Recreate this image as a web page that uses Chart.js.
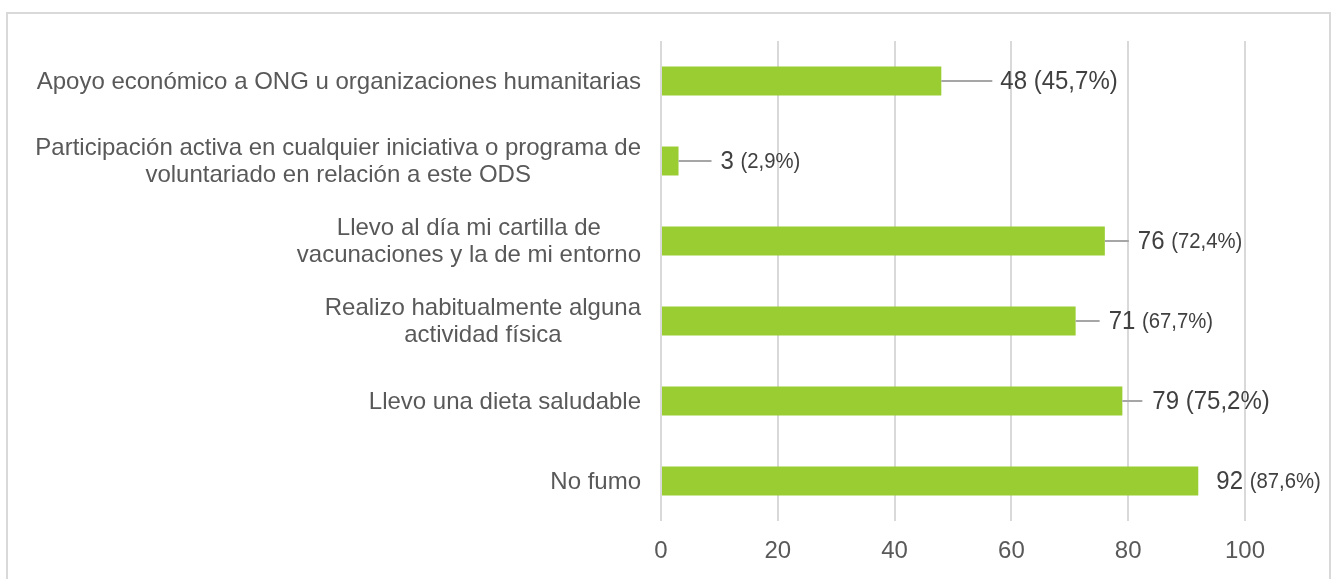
<!DOCTYPE html>
<html>
<head>
<meta charset="utf-8">
<script src="https://cdn.jsdelivr.net/npm/chart.js@4"></script>
<style>
    body { margin: 0; background: #fff; width: 1333px; height: 579px; overflow: hidden; position: relative; }
    #frame { position: absolute; left: 6px; top: 12px; width: 1321px; height: 600px; border: 2px solid #d9d9d9; }
    #wrap { position: absolute; left: 0; top: 0; width: 1333px; height: 579px; }
</style>
</head>
<body>
<div id="frame"></div>
<div id="wrap"><canvas id="odsChart"></canvas></div>
<script>
// ==================== DATA ====================
const categories = [
    ["Apoyo económico a ONG u organizaciones humanitarias"],
    ["Participación activa en cualquier iniciativa o programa de", "voluntariado en relación a este ODS"],
    ["Llevo al día mi cartilla de", "vacunaciones y la de mi entorno"],
    ["Realizo habitualmente alguna", "actividad física"],
    ["Llevo una dieta saludable"],
    ["No fumo"]
];
const counts = [48, 3, 76, 71, 79, 92];
const percents = [45.7, 2.9, 72.4, 67.7, 75.2, 87.6];
const xTicks = [0, 20, 40, 60, 80, 100];

// label styling (leader line length, gap, size of the % part)
const leaderLen = [51, 33, 24, 24, 20, 0];
const labelGap = [8, 9, 9, 9, 10, 18];
const pctSize = [26, 22, 22, 22, 26, 22];

const FONT = "'Liberation Sans', Arial, sans-serif";
const SQUEEZE = 0.923; // value labels look a bit condensed

// category labels: block right aligned, lines centered inside the block
const categoryLabels = {
    id: 'categoryLabels',
    afterDraw(chart) {
        const ctx = chart.ctx;
        const y = chart.scales.y;
        const right = chart.chartArea.left - 20;
        const lh = 27;
        ctx.save();
        ctx.font = '24px ' + FONT;
        ctx.fillStyle = '#595959';
        ctx.textAlign = 'center';
        ctx.textBaseline = 'middle';
        categories.forEach((lines, i) => {
            const cy = y.getPixelForValue(i) + 1;
            const w = Math.max(...lines.map(l => ctx.measureText(l).width));
            const cx = right - w / 2;
            const start = cy - (lines.length - 1) * lh / 2;
            lines.forEach((l, j) => ctx.fillText(l, cx, start + j * lh));
        });
        ctx.restore();
    }
};

// value labels with leader lines
const valueLabels = {
    id: 'valueLabels',
    afterDatasetsDraw(chart) {
        const ctx = chart.ctx;
        const meta = chart.getDatasetMeta(0);
        meta.data.forEach((bar, i) => {
            const x0 = bar.x;
            const y0 = bar.y;
            ctx.save();
            if (leaderLen[i] > 0) {
                ctx.strokeStyle = '#a6a6a6';
                ctx.lineWidth = 2;
                ctx.beginPath();
                ctx.moveTo(x0, y0);
                ctx.lineTo(x0 + leaderLen[i], y0);
                ctx.stroke();
            }
            const tx = x0 + leaderLen[i] + labelGap[i];
            ctx.translate(tx, y0 + 1);
            ctx.scale(SQUEEZE, 1);
            ctx.fillStyle = '#404040';
            ctx.textBaseline = 'middle';
            ctx.textAlign = 'left';
            ctx.font = '26px ' + FONT;
            const first = counts[i] + ' ';
            ctx.fillText(first, 0, 0);
            const off = ctx.measureText(first).width;
            ctx.font = pctSize[i] + 'px ' + FONT;
            ctx.fillText('(' + percents[i].toFixed(1).replace('.', ',') + '%)', off, 0);
            ctx.restore();
        });
    }
};

new Chart(document.getElementById('odsChart'), {
    type: 'bar',
    data: {
        labels: categories.map(c => c.join(' ')),
        datasets: [{
            data: counts,
            backgroundColor: '#9acd32',
            barPercentage: 0.3625,
            categoryPercentage: 1.0
        }]
    },
    options: {
        indexAxis: 'y',
        responsive: true,
        maintainAspectRatio: false,
        animation: false,
        layout: { padding: { top: 41, right: 88, bottom: 0, left: 0 } },
        plugins: {
            legend: { display: false },
            tooltip: { enabled: false }
        },
        scales: {
            x: {
                min: 0,
                max: 100,
                afterBuildTicks: (scale) => { scale.ticks = xTicks.map(v => ({ value: v })); },
                afterFit: (scale) => { scale.height = 58; },
                grid: { color: '#d9d9d9', lineWidth: 2, drawTicks: false },
                border: { display: false },
                ticks: { color: '#595959', font: { family: FONT, size: 24 }, padding: 16 }
            },
            y: {
                afterFit: (scale) => { scale.width = 661; },
                grid: { display: false, drawTicks: false },
                border: { display: false },
                ticks: { display: false }
            }
        }
    },
    plugins: [categoryLabels, valueLabels]
});
</script>
</body>
</html>
